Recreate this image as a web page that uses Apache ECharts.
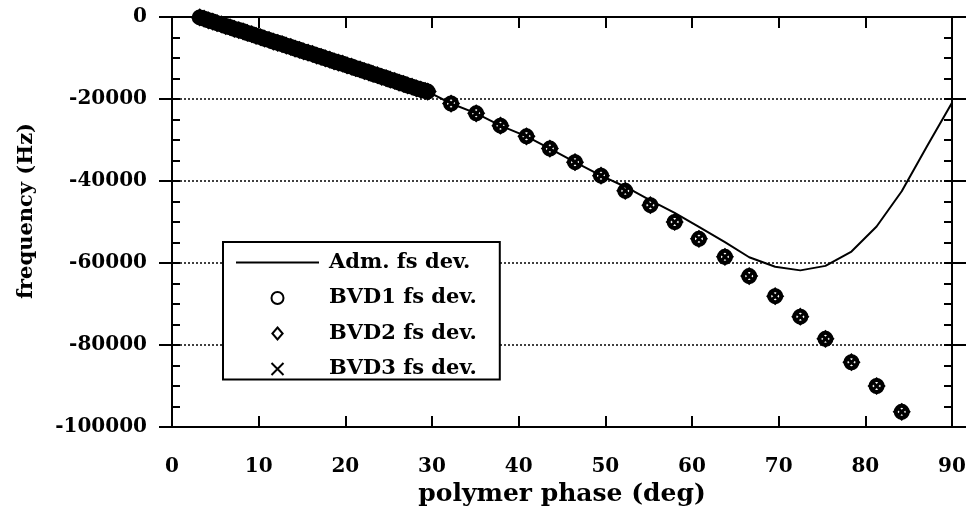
<!DOCTYPE html>
<html>
<head>
<meta charset="utf-8">
<script src="https://cdn.jsdelivr.net/npm/echarts@6/dist/echarts.min.js"></script>
<style>
  html, body { margin: 0; padding: 0; background: #fff; }
  #chart { width: 970px; height: 513px; }
</style>
</head>
<body>
<div id="chart"></div>
<script>
// BVD model frequency shift vs polymer phase (all three BVD fits coincide)
const bvdPhase = [
  3.2, 3.7, 4.2, 4.7, 5.2, 5.7, 6.2, 6.7, 7.2, 7.7, 8.2, 8.7, 9.2, 9.7,
  10.2, 10.7, 11.2, 11.7, 12.2, 12.7, 13.2, 13.7, 14.2, 14.7, 15.2, 15.7,
  16.2, 16.7, 17.2, 17.7, 18.2, 18.7, 19.2, 19.7, 20.2, 20.7, 21.2, 21.7,
  22.2, 22.7, 23.2, 23.7, 24.2, 24.7, 25.2, 25.7, 26.2, 26.7, 27.2, 27.7,
  28.2, 28.7, 29.2, 29.5,
  32.2, 35.1, 37.9, 40.9, 43.6, 46.5, 49.5, 52.3, 55.2, 58.0, 60.8, 63.8,
  66.6, 69.6, 72.5, 75.4, 78.4, 81.3, 84.2
];
const bvdFreq = [
  -100, -400, -800, -1100, -1500, -1800, -2200, -2500, -2900, -3200, -3500, -3900, -4200, -4600,
  -4900, -5300, -5600, -6000, -6300, -6600, -7000, -7300, -7700, -8000, -8400, -8700,
  -9000, -9400, -9700, -10100, -10400, -10800, -11100, -11400, -11800, -12100, -12500, -12800,
  -13200, -13500, -13900, -14200, -14600, -14900, -15300, -15600, -16000, -16300, -16700, -17000,
  -17400, -17700, -18000, -18200,
  -21100, -23500, -26500, -29100, -32100, -35400, -38700, -42400, -45900, -50000, -54100, -58500,
  -63200, -68100, -73100, -78500, -84200, -90000, -96300
];

// Admittance-based frequency shift
const admPhase = [
  3.2, 16.2, 29.5, 32.2, 35.1, 37.9, 40.9, 43.6, 46.5, 49.5, 52.3, 55.2,
  58.0, 60.8, 63.8, 66.6, 69.6, 72.5, 75.4, 78.4, 81.3, 84.2, 87.1, 90.0
];
const admFreq = [
  -100, -9000, -18200, -21100, -23500, -26500, -29100, -32100, -35400, -38700, -41400, -44700,
  -47800, -51200, -54900, -58600, -60900, -61800, -60700, -57200, -51100, -42500, -31600, -20900
];

const phaseTicks = [0, 10, 20, 30, 40, 50, 60, 70, 80, 90];
const freqTicks = [-100000, -80000, -60000, -40000, -20000, 0];
const seriesNames = ['Adm. fs dev.', 'BVD1 fs dev.', 'BVD2 fs dev.', 'BVD3 fs dev.'];

const FONT = 'DejaVu Serif';
const INK = '#000';

const zip = (xs, ys) => xs.map((x, i) => [x, ys[i]]);
const bvdPoints = zip(bvdPhase, bvdFreq);

const xRange = {
  min: phaseTicks[0],
  max: phaseTicks[phaseTicks.length - 1],
  interval: phaseTicks[1] - phaseTicks[0]
};
const yRange = {
  min: freqTicks[0],
  max: freqTicks[freqTicks.length - 1],
  interval: freqTicks[1] - freqTicks[0]
};

const frameLine = { show: true, onZero: false, lineStyle: { color: INK, width: 2 } };
const labelFont = { fontFamily: FONT, fontWeight: 'bold', fontSize: 20, color: INK };
const tickStyle = { color: INK, width: 2 };

// legend glyphs
const ICON_LINE = 'path://M0,0L83,0L83,2L0,2Z';
const ICON_DIAMOND = 'path://M6,0L12,7L6,14L0,7Z';
const ICON_CROSS = 'path://M0,0L10,10M10,0L0,10';

const chart = echarts.init(document.getElementById('chart'), null, { renderer: 'canvas' });

chart.setOption({
  animation: false,
  backgroundColor: '#fff',
  grid: { left: 172, right: 18, top: 17, bottom: 86, containLabel: false },
  xAxis: [
    Object.assign({
      type: 'value', position: 'bottom',
      axisLine: frameLine,
      axisTick: { show: true, inside: true, length: 11, lineStyle: tickStyle },
      axisLabel: Object.assign({ margin: 30, formatter: v => String(v) }, labelFont),
      splitLine: { show: false },
      name: 'polymer phase (deg)', nameLocation: 'middle', nameGap: 48,
      nameTextStyle: Object.assign({}, labelFont, { fontSize: 25 })
    }, xRange),
    Object.assign({
      type: 'value', position: 'top',
      axisLine: frameLine,
      axisTick: { show: true, inside: true, length: 11, lineStyle: tickStyle },
      axisLabel: { show: false },
      splitLine: { show: false }
    }, xRange)
  ],
  yAxis: [
    Object.assign({
      type: 'value', position: 'left',
      axisLine: frameLine,
      axisTick: { show: true, inside: false, length: 13, lineStyle: tickStyle },
      axisLabel: Object.assign({ margin: 25, formatter: v => String(v) }, labelFont),
      splitLine: { show: true, lineStyle: { color: INK, width: 1.5, type: [2, 2] } },
      name: 'frequency (Hz)', nameLocation: 'middle', nameGap: 135,
      nameTextStyle: Object.assign({ padding: [0, 0, 0, 22] }, labelFont, { fontSize: 21 })
    }, yRange),
    Object.assign({
      type: 'value', position: 'left',
      axisLine: { show: false, onZero: false },
      axisTick: { show: true, inside: true, length: 8, lineStyle: tickStyle },
      minorTick: { show: true, splitNumber: 4, length: 8, lineStyle: tickStyle },
      axisLabel: { show: false },
      splitLine: { show: false }
    }, yRange),
    Object.assign({
      type: 'value', position: 'right',
      axisLine: frameLine,
      axisTick: { show: true, inside: true, length: 8, lineStyle: tickStyle },
      minorTick: { show: true, splitNumber: 4, length: 8, lineStyle: tickStyle },
      axisLabel: { show: false },
      splitLine: { show: false }
    }, yRange),
    Object.assign({
      type: 'value', position: 'right',
      axisLine: { show: false, onZero: false },
      axisTick: { show: true, inside: false, length: 14, lineStyle: tickStyle },
      axisLabel: { show: false },
      splitLine: { show: false }
    }, yRange)
  ],
  legend: {
    orient: 'vertical',
    left: 223, top: 242,
    padding: [10, 23, 0, 13],
    itemGap: 14.5,
    itemWidth: 83, itemHeight: 12,
    symbolKeepAspect: true,
    borderColor: INK, borderWidth: 2,
    backgroundColor: '#fff',
    selectedMode: false,
    textStyle: { fontFamily: FONT, fontWeight: 'bold', fontSize: 21, color: INK, padding: [0, 0, 0, 5] },
    data: [
      { name: seriesNames[0], icon: ICON_LINE, itemStyle: { color: INK, borderWidth: 0 } },
      { name: seriesNames[1], icon: 'circle', itemStyle: { borderWidth: 2 } },
      { name: seriesNames[2], icon: ICON_DIAMOND, itemStyle: { borderWidth: 2 } },
      { name: seriesNames[3], icon: ICON_CROSS, itemStyle: { borderWidth: 2 } }
    ]
  },
  series: [
    {
      name: seriesNames[0], type: 'line', xAxisIndex: 0, yAxisIndex: 0,
      data: zip(admPhase, admFreq),
      symbol: 'none', smooth: false,
      lineStyle: { color: INK, width: 2 }, itemStyle: { color: INK }, z: 2
    },
    {
      name: seriesNames[1], type: 'scatter', xAxisIndex: 0, yAxisIndex: 0,
      data: bvdPoints, symbol: 'circle', symbolSize: 12,
      itemStyle: { color: 'transparent', borderColor: INK, borderWidth: 4, opacity: 1 }, z: 3
    },
    {
      name: seriesNames[2], type: 'scatter', xAxisIndex: 0, yAxisIndex: 0,
      data: bvdPoints, symbol: 'diamond', symbolSize: 14,
      itemStyle: { color: 'transparent', borderColor: INK, borderWidth: 3, opacity: 1 }, z: 3
    },
    {
      name: seriesNames[3], type: 'scatter', xAxisIndex: 0, yAxisIndex: 0,
      data: bvdPoints, symbol: 'path://M0,0L10,10M10,0L0,10', symbolSize: 9,
      itemStyle: { color: 'transparent', borderColor: INK, borderWidth: 3, opacity: 1 }, z: 3
    }
  ]
});
</script>
</body>
</html>
